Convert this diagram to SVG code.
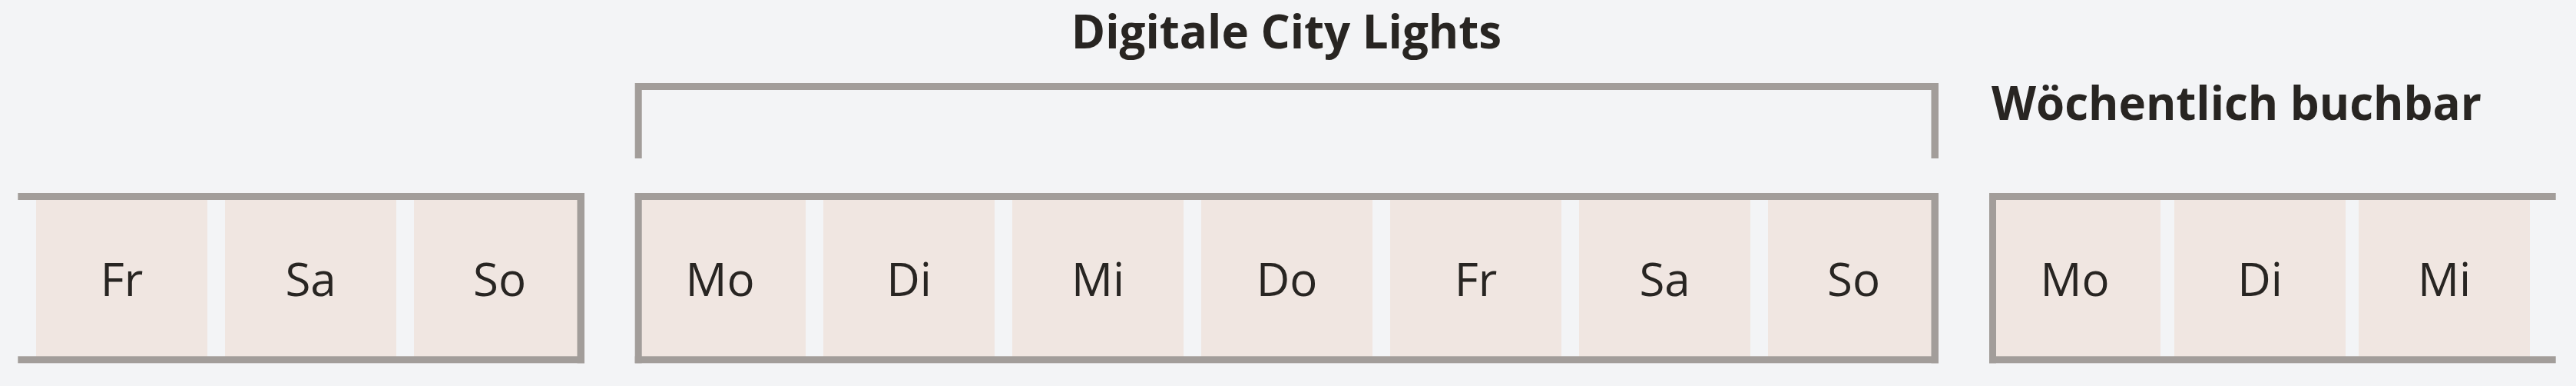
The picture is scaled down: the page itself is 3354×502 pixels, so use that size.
<svg xmlns="http://www.w3.org/2000/svg" width="3354" height="502" viewBox="0 0 3354 502">
<style>
.bg{fill:#f3f4f6}
.cell{fill:#f0e6e1}
.bar{fill:#a29d9a}
.day{font-family:"Open Sans","Liberation Sans",sans-serif;font-size:60px;fill:#282522;text-anchor:middle}
.title{font-family:"Open Sans","Liberation Sans",sans-serif;font-size:60px;font-weight:bold;fill:#282522}
</style>
<rect class="bg" x="0" y="0" width="3354" height="502"/>

<g id="title-digitale">
<text class="title" x="1675" y="63" text-anchor="middle">Digitale City Lights</text>
</g>
<g id="title-woechentlich">
<text class="title" x="2593" y="156">Wöchentlich buchbar</text>
</g>

<g id="group-prev">
<rect class="cell" x="47" y="255" width="223" height="212"/>
<rect class="cell" x="293" y="255" width="223" height="212"/>
<rect class="cell" x="539" y="255" width="216" height="212"/>
<text class="day" x="158.5" y="385">Fr</text>
<text class="day" x="404.5" y="385">Sa</text>
<text class="day" x="650.5" y="385">So</text>
<rect class="bar" x="23.3" y="251" width="737.7" height="9"/>
<rect class="bar" x="23.3" y="463.3" width="737.7" height="9"/>
<rect class="bar" x="751.5" y="251" width="9.5" height="221.3"/>
</g>

<g id="group-digital">
<rect class="cell" x="830" y="255" width="219" height="212"/>
<rect class="cell" x="1072" y="255" width="223" height="212"/>
<rect class="cell" x="1318" y="255" width="223" height="212"/>
<rect class="cell" x="1564" y="255" width="223" height="212"/>
<rect class="cell" x="1810" y="255" width="223" height="212"/>
<rect class="cell" x="2056" y="255" width="223" height="212"/>
<rect class="cell" x="2302" y="255" width="218" height="212"/>
<text class="day" x="937.5" y="385">Mo</text>
<text class="day" x="1183.5" y="385">Di</text>
<text class="day" x="1429.5" y="385">Mi</text>
<text class="day" x="1675.5" y="385">Do</text>
<text class="day" x="1921.5" y="385">Fr</text>
<text class="day" x="2167.5" y="385">Sa</text>
<text class="day" x="2413.5" y="385">So</text>
<rect class="bar" x="826.7" y="251" width="1697.3" height="9"/>
<rect class="bar" x="826.7" y="463.3" width="1697.3" height="9"/>
<rect class="bar" x="826.7" y="251" width="9" height="221.3"/>
<rect class="bar" x="2514.5" y="251" width="9.5" height="221.3"/>
</g>

<g id="group-next">
<rect class="cell" x="2594" y="255" width="219" height="212"/>
<rect class="cell" x="2831" y="255" width="223" height="212"/>
<rect class="cell" x="3071" y="255" width="223" height="212"/>
<text class="day" x="2701.5" y="385">Mo</text>
<text class="day" x="2942.5" y="385">Di</text>
<text class="day" x="3182.5" y="385">Mi</text>
<rect class="bar" x="2590" y="251" width="737.7" height="9"/>
<rect class="bar" x="2590" y="463.3" width="737.7" height="9"/>
<rect class="bar" x="2590" y="251" width="9" height="221.3"/>
</g>

<g id="connectors">
<path class="bar" d="M826.7 108 H2524 V206 H2514.5 V117 H835.7 V206 H826.7 Z"/>
</g>
</svg>
